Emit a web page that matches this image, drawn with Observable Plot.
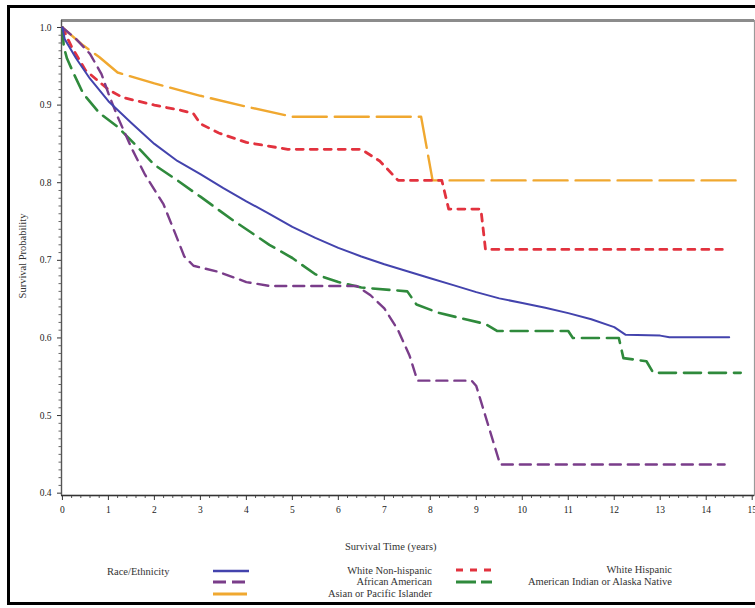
<!DOCTYPE html>
<html><head><meta charset="utf-8">
<script src="https://cdn.jsdelivr.net/npm/d3@7"></script>
<script src="https://cdn.jsdelivr.net/npm/@observablehq/plot@0.6"></script>
<style>
html,body{margin:0;padding:0;width:755px;height:608px;overflow:hidden;background:#fff;font-family:"Liberation Serif","DejaVu Serif",serif;}
#border{position:absolute;left:7px;top:5px;width:800px;height:600px;border:3px solid #000;box-sizing:border-box;}
#chart{position:absolute;left:0;top:0;width:762px;}
.t{position:absolute;font-size:10.5px;color:#333;white-space:nowrap;line-height:12px;}
.r{text-align:right;}
svg.sample{position:absolute;overflow:visible;}
</style></head><body>
<div id="border"></div>
<div id="chart"></div>
<div class="t" style="left:345px;top:541px;">Survival Time (years)</div>
<div class="t" id="ylab" style="left:-34px;top:250px;width:114px;text-align:center;transform:rotate(-90deg);">Survival Probability</div>
<div class="t" style="left:107px;top:566px;">Race/Ethnicity</div>
<div id="legend"></div>
<script>
// ---- data ----
const seriesNames = ["White Non-hispanic", "African American", "Asian or Pacific Islander", "White Hispanic", "American Indian or Alaska Native"];

const whiteNH_t = [0, 0.05, 0.3, 0.6, 1.0, 1.5, 2.0, 2.5, 3.0, 3.5, 4.0, 4.5, 5.0, 5.5, 6.0, 6.5, 7.0, 7.5, 8.0, 8.5, 9.0, 9.5, 10.0, 10.5, 11.0, 11.5, 12.0, 12.25, 13.0, 13.2, 14.5];
const whiteNH_p = [1.0, 0.985, 0.96, 0.934, 0.905, 0.877, 0.85, 0.828, 0.811, 0.793, 0.776, 0.76, 0.743, 0.729, 0.716, 0.705, 0.695, 0.686, 0.677, 0.668, 0.659, 0.651, 0.645, 0.639, 0.632, 0.624, 0.614, 0.604, 0.603, 0.601, 0.601];

const africanAm_t = [0, 0.3, 0.6, 0.85, 1.0, 1.2, 1.5, 1.8, 2.2, 2.45, 2.65, 2.85, 3.4, 4.0, 4.5, 6.4, 6.7, 7.0, 7.3, 7.55, 7.72, 8.9, 9.0, 9.52, 14.4];
const africanAm_p = [1.0, 0.985, 0.966, 0.94, 0.915, 0.885, 0.845, 0.81, 0.772, 0.735, 0.705, 0.693, 0.685, 0.672, 0.667, 0.667, 0.655, 0.638, 0.61, 0.577, 0.545, 0.545, 0.538, 0.437, 0.437];

const asianPI_t = [0, 0.45, 0.8, 1.2, 2.0, 3.0, 4.0, 5.0, 7.8, 8.05, 14.8];
const asianPI_p = [1.0, 0.977, 0.962, 0.942, 0.928, 0.912, 0.898, 0.885, 0.885, 0.803, 0.803];

const whiteHisp_t = [0, 0.2, 0.5, 1.0, 1.3, 2.0, 2.6, 2.85, 3.0, 3.4, 4.0, 4.9, 6.5, 6.9, 7.3, 8.25, 8.4, 9.1, 9.2, 14.35];
const whiteHisp_p = [1.0, 0.975, 0.945, 0.92, 0.91, 0.9, 0.893, 0.889, 0.876, 0.864, 0.852, 0.843, 0.843, 0.828, 0.803, 0.803, 0.766, 0.766, 0.714, 0.714];

const amIndian_t = [0, 0.03, 0.1, 0.25, 0.45, 0.8, 1.2, 1.6, 2.0, 2.5, 3.0, 3.7, 4.5, 5.0, 5.5, 6.0, 6.5, 7.5, 7.7, 8.2, 9.2, 9.45, 11.0, 11.1, 12.1, 12.2, 12.7, 12.85, 14.75];
const amIndian_p = [1.0, 0.975, 0.96, 0.94, 0.915, 0.89, 0.872, 0.848, 0.823, 0.803, 0.782, 0.752, 0.72, 0.703, 0.682, 0.672, 0.665, 0.66, 0.643, 0.632, 0.618, 0.609, 0.609, 0.6, 0.6, 0.574, 0.57, 0.555, 0.555];

const xTicks = d3.range(0, 16);
const yTicks = [0.4, 0.5, 0.6, 0.7, 0.8, 0.9, 1.0];

// ---- styles ----
const seriesT = [whiteNH_t, africanAm_t, asianPI_t, whiteHisp_t, amIndian_t];
const seriesP = [whiteNH_p, africanAm_p, asianPI_p, whiteHisp_p, amIndian_p];
const colors = ["#4343ad", "#7a3d8a", "#f0a830", "#e2323e", "#2f8a3c"];
const dashes = [null, "11,7", "34,8", "7,7", "17,8"];
const widths = [2, 2.4, 2.4, 2.8, 2.6];
const drawOrder = [2, 3, 4, 1, 0];

const rows = seriesNames.map((name, i) => seriesT[i].map((t, j) => ({series: name, t, p: seriesP[i][j]})));

const W = 762, H = 530;
const xDomain = [-0.02, 15.05], yDomain = [0.397, 1.009];
const minorX = d3.range(0, 75.5).map(k => k / 5).filter(v => !Number.isInteger(v) && v <= 15.05);
const minorY = d3.range(40, 101).map(k => k / 100).filter(v => Math.round(v * 100) % 10 !== 0);

const plot = Plot.plot({
  width: W, height: H,
  marginLeft: 61, marginRight: W - 754, marginTop: 20, marginBottom: H - 495,
  x: {domain: xDomain},
  y: {domain: yDomain},
  style: {fontFamily: "Liberation Serif, DejaVu Serif, serif", fontSize: "9.5px", color: "#222", background: "transparent", maxWidth: "none", overflow: "visible"},
  marks: [
    Plot.frame({stroke: "#9a9a9a", strokeWidth: 1.2}),
    Plot.ruleY([yDomain[1]], {stroke: "#8c8c8c", strokeWidth: 3}),
    Plot.axisX({ticks: minorX, tickSize: 3, tickFormat: () => "", label: null, stroke: "#555"}),
    Plot.axisX({ticks: xTicks, tickSize: 5, tickPadding: 6, tickFormat: d => String(d), label: null, stroke: "#333"}),
    Plot.axisY({ticks: minorY, tickSize: 2.5, tickFormat: () => "", label: null, stroke: "#666"}),
    Plot.axisY({ticks: yTicks, tickSize: 4, tickPadding: 6, tickFormat: d3.format(".1f"), label: null, stroke: "#333"}),
    Plot.ruleY([yDomain[0]], {stroke: "#333", strokeWidth: 1.3}),
    Plot.ruleX([xDomain[0]], {stroke: "#555", strokeWidth: 1.3}),
    ...drawOrder.map(i => Plot.line(rows[i], {x: "t", y: "p", stroke: colors[i], strokeWidth: widths[i], strokeDasharray: dashes[i], strokeLinejoin: "round"}))
  ]
});
document.getElementById("chart").appendChild(plot);

// ---- legend ----
const legend = document.getElementById("legend");
const legendPos = [
  {sx: 213, sy: 571, tx: 432, ty: 565},
  {sx: 213, sy: 582, tx: 432, ty: 576},
  {sx: 213, sy: 594, tx: 432, ty: 588},
  {sx: 456, sy: 570, tx: 672, ty: 564},
  {sx: 456, sy: 582, tx: 672, ty: 576}
];
seriesNames.forEach((name, i) => {
  const p = legendPos[i];
  const ns = "http://www.w3.org/2000/svg";
  const s = document.createElementNS(ns, "svg");
  s.setAttribute("class", "sample");
  s.setAttribute("width", 36); s.setAttribute("height", 6);
  s.style.left = p.sx + "px"; s.style.top = (p.sy - 3) + "px";
  const l = document.createElementNS(ns, "line");
  l.setAttribute("x1", 0); l.setAttribute("x2", 36); l.setAttribute("y1", 3); l.setAttribute("y2", 3);
  l.setAttribute("stroke", colors[i]); l.setAttribute("stroke-width", widths[i] + 0.4);
  if (dashes[i]) l.setAttribute("stroke-dasharray", i === 1 ? "13,6" : i === 4 ? "20,5" : dashes[i]);
  s.appendChild(l);
  legend.appendChild(s);
  const d = document.createElement("div");
  d.className = "t r";
  d.textContent = name;
  d.style.left = (p.tx - 250) + "px"; d.style.width = "250px"; d.style.top = p.ty + "px";
  legend.appendChild(d);
});
</script>
</body></html>
